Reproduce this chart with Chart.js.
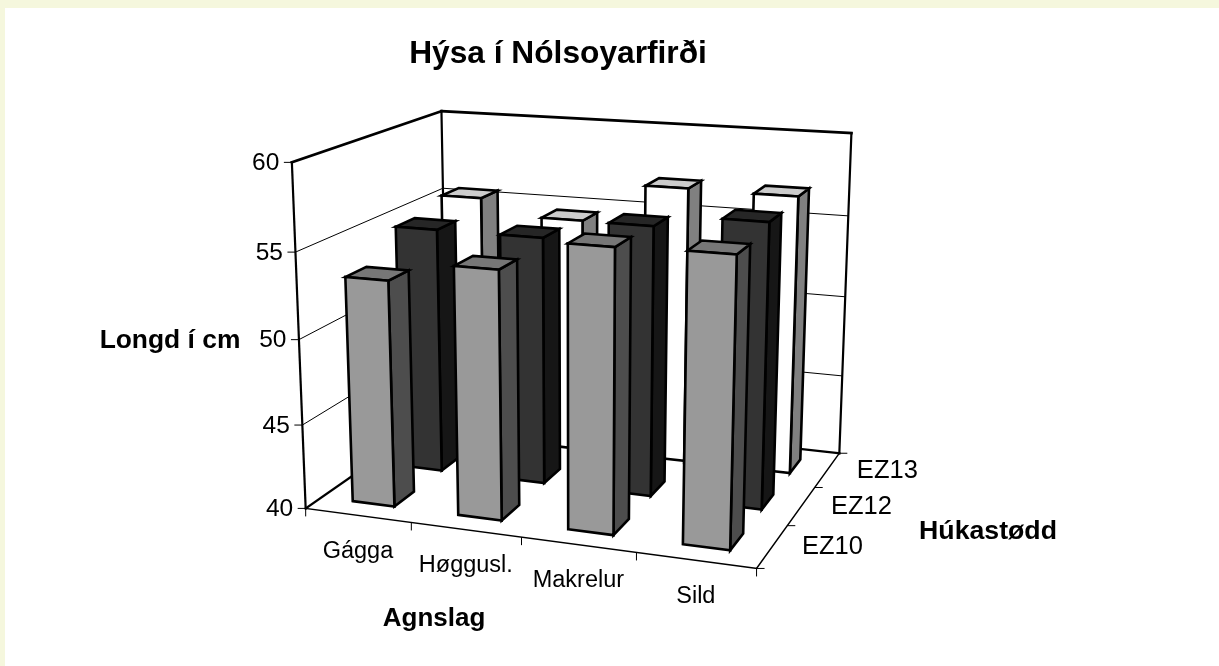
<!DOCTYPE html>
<html>
<head>
<meta charset="utf-8">
<title>Hýsa í Nólsoyarfirði</title>
<script src="https://cdn.jsdelivr.net/npm/chart.js@4"></script>
<style>
  html, body { margin: 0; padding: 0; background: #f5f7dd; }
  #paper { position: absolute; left: 5px; top: 8px; width: 1214px; height: 658px; background: #fff; }
  #graf { position: absolute; left: 0; top: 0; }
</style>
</head>
<body>
<div id="paper"></div>
<canvas id="graf" width="1219" height="666"></canvas>
<script>
const agnslag = ['Gágga', 'Høggusl.', 'Makrelur', 'Sild'];
const hukastodd = ['EZ10', 'EZ12', 'EZ13'];
const ez10 = [53.3, 54.45, 56.2, 56.3];
const ez12 = [54.85, 54.85, 56.0, 56.7];
const ez13 = [55.5, 54.55, 56.95, 56.9];

// front face, right face, top face of the bars in each series
const litir = [
  ['#999999', '#4d4d4d', '#777777'],
  ['#333333', '#161616', '#262626'],
  ['#ffffff', '#808080', '#cccccc']
];

const arial = 'Arial, "Liberation Sans", sans-serif';

// corners of the 3D box on the page: [u, v, w, x, y]
const horn = [
  [0, 0, 0, 305.7, 507.3],
  [1, 0, 0, 756.7, 569.3],
  [0, 1, 0, 291.7, 162.7],
  [0, 0, 1, 447, 411],
  [1, 0, 1, 839.3, 452.3],
  [0, 1, 1, 441.7, 110.7],
  [1, 1, 1, 851.3, 133.3]
];

// least squares fit of the projective camera through the corners
function loysKamera(pts) {
  const A = [], b = [];
  pts.forEach(([u, v, w, x, y]) => {
    A.push([u, v, w, 1, 0, 0, 0, 0, -x * u, -x * v, -x * w]); b.push(x);
    A.push([0, 0, 0, 0, u, v, w, 1, -y * u, -y * v, -y * w]); b.push(y);
  });
  const n = 11;
  const M = [];
  for (let i = 0; i < n; i++) {
    M.push([]);
    for (let j = 0; j < n; j++) M[i].push(A.reduce((s, r) => s + r[i] * r[j], 0));
    M[i].push(A.reduce((s, r, k) => s + r[i] * b[k], 0));
  }
  for (let c = 0; c < n; c++) {
    let p = c;
    for (let r = c + 1; r < n; r++) if (Math.abs(M[r][c]) > Math.abs(M[p][c])) p = r;
    [M[c], M[p]] = [M[p], M[c]];
    for (let r = 0; r < n; r++) {
      if (r === c) continue;
      const f = M[r][c] / M[c][c];
      for (let k = c; k <= n; k++) M[r][k] -= f * M[c][k];
    }
  }
  return M.map((r, i) => r[n] / r[i]);
}

const kam = loysKamera(horn);
function proj(u, v, w) {
  const d = kam[8] * u + kam[9] * v + kam[10] * w + 1;
  return [
    (kam[0] * u + kam[1] * v + kam[2] * w + kam[3]) / d,
    (kam[4] * u + kam[5] * v + kam[6] * w + kam[7]) / d
  ];
}

function linja(ctx, a, b, lw) {
  ctx.lineWidth = lw;
  ctx.beginPath();
  ctx.moveTo(a[0], a[1]);
  ctx.lineTo(b[0], b[1]);
  ctx.stroke();
}

function flata(ctx, pts, fill) {
  ctx.fillStyle = fill;
  ctx.beginPath();
  pts.forEach((p, i) => i ? ctx.lineTo(p[0], p[1]) : ctx.moveTo(p[0], p[1]));
  ctx.closePath();
  ctx.fill();
  ctx.stroke();
}

function tekst(ctx, t, x, y, font, align) {
  ctx.font = font;
  ctx.textAlign = align || 'center';
  ctx.textBaseline = 'middle';
  ctx.fillStyle = '#000';
  ctx.fillText(t, x, y);
}

const dec = (scale, val) => scale.getDecimalForPixel(scale.getPixelForValue(val));

const kassi3d = {
  id: 'kassi3d',
  beforeDatasetsDraw(chart) {
    const ctx = chart.ctx;
    const y = chart.scales.y;
    ctx.save();
    ctx.strokeStyle = '#000';
    ctx.lineCap = 'square';
    y.ticks.forEach(t => {
      const v = dec(y, t.value);
      if (v > 0 && v < 1) {
        linja(ctx, proj(0, v, 0), proj(0, v, 1), 1);
        linja(ctx, proj(0, v, 1), proj(1, v, 1), 1);
      }
    });
    linja(ctx, proj(0, 0, 0), proj(1, 0, 0), 1.5);
    linja(ctx, proj(1, 0, 0), proj(1, 0, 1), 1.5);
    linja(ctx, proj(0, 0, 0), proj(0, 0, 1), 2.2);
    linja(ctx, proj(0, 0, 1), proj(1, 0, 1), 2.2);
    linja(ctx, proj(0, 0, 0), proj(0, 1, 0), 2.2);
    linja(ctx, proj(0, 0, 1), proj(0, 1, 1), 2.2);
    linja(ctx, proj(1, 0, 1), proj(1, 1, 1), 2.2);
    linja(ctx, proj(0, 1, 0), proj(0, 1, 1), 2.7);
    linja(ctx, proj(0, 1, 1), proj(1, 1, 1), 2.7);
    ctx.restore();
  },
  afterDatasetsDraw(chart) {
    const ctx = chart.ctx;
    const { x, y, z } = chart.scales;
    const hw = 0.4 / agnslag.length / 2;
    const hd = 0.4 / hukastodd.length / 2;
    ctx.save();
    ctx.strokeStyle = '#000';
    ctx.lineWidth = 2.6;
    ctx.lineJoin = 'miter';
    // back row first so the front row covers it
    for (let s = hukastodd.length - 1; s >= 0; s--) {
      const w = dec(z, s);
      chart.data.datasets[s].data.forEach((val, i) => {
        const u = dec(x, i);
        const v = dec(y, val);
        const [cF, cS, cT] = litir[s];
        flata(ctx, [proj(u + hw, 0, w - hd), proj(u + hw, 0, w + hd), proj(u + hw, v, w + hd), proj(u + hw, v, w - hd)], cS);
        flata(ctx, [proj(u - hw, v, w - hd), proj(u + hw, v, w - hd), proj(u + hw, v, w + hd), proj(u - hw, v, w + hd)], cT);
        flata(ctx, [proj(u - hw, 0, w - hd), proj(u + hw, 0, w - hd), proj(u + hw, v, w - hd), proj(u - hw, v, w - hd)], cF);
      });
    }
    ctx.restore();
  },
  afterDraw(chart) {
    const ctx = chart.ctx;
    const { x, y, z } = chart.scales;
    ctx.save();
    ctx.strokeStyle = '#000';
    ctx.lineCap = 'butt';
    y.ticks.forEach(t => {
      const p = proj(0, dec(y, t.value), 0);
      linja(ctx, [p[0] - 8, p[1]], p, 1);
      tekst(ctx, String(t.value), p[0] - 12.5, p[1] + 1, '24.5px ' + arial, 'right');
    });
    for (let i = 0; i <= agnslag.length; i++) {
      const p = proj(i / agnslag.length, 0, 0);
      linja(ctx, p, [p[0], p[1] + 8], 1);
    }
    agnslag.forEach((n, i) => {
      const p = proj(dec(x, i), 0, 0);
      tekst(ctx, n, p[0], p[1] + 36, '23.5px ' + arial);
    });
    for (let s = 0; s <= hukastodd.length; s++) {
      const p = proj(1, 0, s / hukastodd.length);
      linja(ctx, p, [p[0] + 8, p[1]], 1);
    }
    hukastodd.forEach((n, s) => {
      const p = proj(1, 0, dec(z, s));
      tekst(ctx, n, p[0] + 60, p[1] + 1, '25.5px ' + arial);
    });
    tekst(ctx, 'Hýsa í Nólsoyarfirði', 558, 54, 'bold 31.7px ' + arial);
    tekst(ctx, 'Longd í cm', 170, 341, 'bold 26.4px ' + arial);
    tekst(ctx, 'Agnslag', 434, 619, 'bold 26px ' + arial);
    tekst(ctx, 'Húkastødd', 988, 532, 'bold 26.7px ' + arial);
    ctx.restore();
  }
};

new Chart(document.getElementById('graf').getContext('2d'), {
  type: 'bar',
  data: {
    labels: agnslag,
    datasets: [
      { label: hukastodd[0], data: ez10, backgroundColor: 'transparent' },
      { label: hukastodd[1], data: ez12, backgroundColor: 'transparent' },
      { label: hukastodd[2], data: ez13, backgroundColor: 'transparent' }
    ]
  },
  options: {
    responsive: false,
    animation: false,
    plugins: { legend: { display: false }, tooltip: { enabled: false } },
    scales: {
      x: { display: false },
      y: { display: false, min: 40, max: 60, ticks: { stepSize: 5 } },
      z: { axis: 'x', position: 'bottom', type: 'category', labels: hukastodd, offset: true, display: false }
    }
  },
  plugins: [kassi3d]
});
</script>
</body>
</html>
